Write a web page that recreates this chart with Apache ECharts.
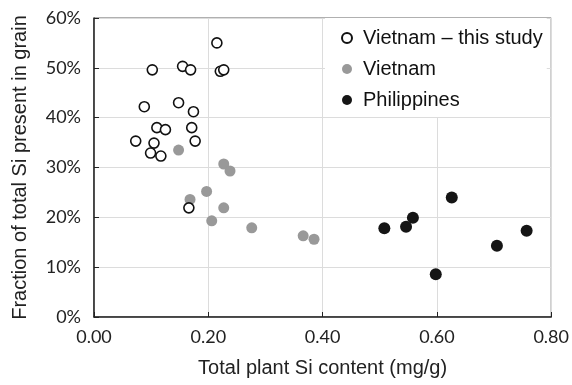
<!DOCTYPE html>
<html>
<head>
<meta charset="utf-8">
<script src="https://cdnjs.cloudflare.com/ajax/libs/echarts/6.0.0/echarts.min.js"></script>
<style>
  html, body { margin: 0; padding: 0; background: #fff; }
  #chart { width: 572px; height: 385px; }
</style>
</head>
<body>
<div id="chart"></div>
<script>
// Total plant Si content (mg/g) vs fraction of Si in grain (%)
var thisStudy = [
  [0.215, 55.0], [0.102, 49.6], [0.155, 50.3], [0.169, 49.6], [0.221, 49.3],
  [0.227, 49.6], [0.088, 42.2], [0.148, 43.0], [0.174, 41.2], [0.110, 38.0],
  [0.125, 37.6], [0.171, 38.0], [0.073, 35.3], [0.105, 34.9], [0.177, 35.3],
  [0.099, 32.9], [0.117, 32.3], [0.166, 21.9]
];
var vietnam = [
  [0.148, 33.5], [0.227, 30.7], [0.238, 29.3], [0.168, 23.6], [0.197, 25.2],
  [0.227, 21.9], [0.206, 19.3], [0.276, 17.9], [0.366, 16.3], [0.385, 15.6]
];
var philippines = [
  [0.508, 17.8], [0.546, 18.1], [0.558, 19.9], [0.626, 24.0],
  [0.757, 17.3], [0.705, 14.3], [0.598, 8.6]
];
var seriesNames = ['Vietnam \u2013 this study', 'Vietnam', 'Philippines'];

var TICK_FONT = 'Lato, "Open Sans", sans-serif';
var TITLE_FONT = '"Liberation Sans", Arial, sans-serif';

var chart = echarts.init(document.getElementById('chart'), null, { renderer: 'canvas' });

chart.setOption({
  animation: false,
  backgroundColor: '#fff',
  grid: {
    left: 94, right: 19, top: 18, bottom: 68,
    show: true, borderColor: '#606060', borderWidth: 1, backgroundColor: 'transparent'
  },
  legend: {
    orient: 'vertical',
    left: 325, top: 18,
    padding: [10, 4, 7, 16],
    itemGap: 11,
    itemWidth: 22, itemHeight: 10,
    backgroundColor: '#fff',
    textStyle: { fontFamily: TITLE_FONT, fontSize: 20, color: '#111' },
    data: seriesNames
  },
  xAxis: {
    type: 'value', min: 0, max: 0.8, interval: 0.2,
    name: 'Total plant Si content (mg/g)',
    nameLocation: 'middle', nameGap: 41,
    nameTextStyle: { fontFamily: TITLE_FONT, fontSize: 20, color: '#222' },
    axisLine: { show: true, onZero: false, lineStyle: { color: '#222', width: 1.5 } },
    axisTick: { show: true, inside: true, length: 5, lineStyle: { color: '#222' } },
    axisLabel: {
      margin: 11, fontFamily: TICK_FONT, fontSize: 18, color: '#222',
      formatter: function (v) { return v.toFixed(2); }
    },
    splitLine: { show: true, lineStyle: { color: '#dcdcdc', width: 1 } }
  },
  yAxis: {
    type: 'value', min: 0, max: 60, interval: 10,
    name: 'Fraction of total Si present in grain',
    nameLocation: 'middle', nameGap: 64,
    nameTextStyle: { fontFamily: TITLE_FONT, fontSize: 20, color: '#222' },
    axisLine: { show: true, onZero: false, lineStyle: { color: '#222', width: 1.5 } },
    axisTick: { show: true, inside: true, length: 5, lineStyle: { color: '#222' } },
    axisLabel: { margin: 13, fontFamily: TICK_FONT, fontSize: 18, color: '#222', formatter: '{value}%' },
    splitLine: { show: true, lineStyle: { color: '#dcdcdc', width: 1 } }
  },
  series: [
    {
      name: seriesNames[0], type: 'scatter', data: thisStudy, symbolSize: 10, z: 4,
      itemStyle: { color: '#fff', borderColor: '#111', borderWidth: 1.6, opacity: 1 }
    },
    {
      name: seriesNames[1], type: 'scatter', data: vietnam, symbolSize: 11, z: 3,
      itemStyle: { color: '#999999', opacity: 1 }
    },
    {
      name: seriesNames[2], type: 'scatter', data: philippines, symbolSize: 12, z: 3,
      itemStyle: { color: '#151515', opacity: 1 }
    }
  ]
});
</script>
</body>
</html>
